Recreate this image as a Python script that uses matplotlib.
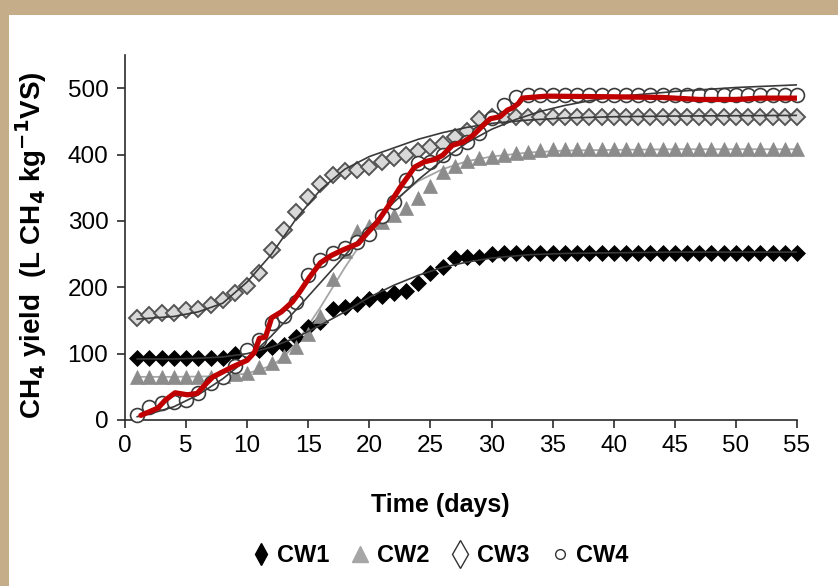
import numpy as np
import matplotlib
matplotlib.use("Agg")
import matplotlib.pyplot as plt
from matplotlib.patches import Rectangle
from matplotlib.lines import Line2D

plt.rcParams['font.family'] = ['Liberation Sans', 'DejaVu Sans']

# ---- measured cumulative CH4 yield (L CH4 kg-1 VS), one value per day ----
days = list(range(1, 56))

cw1 = [93, 93, 93, 93, 93, 93, 93, 94, 100, 103, 105, 110, 113, 125, 140,
       148, 168, 170, 175, 182, 187, 191, 194, 206, 221, 231, 244, 245, 246, 250,
       251, 251, 252, 252, 252, 252, 252, 252, 252, 252, 252, 252, 252, 252, 252,
       252, 252, 252, 252, 252, 252, 252, 252, 252, 252]

cw2 = [65, 65, 65, 65, 65, 65, 65, 66, 69, 71, 80, 86, 96, 110, 129,
       157, 212, 255, 285, 292, 298, 309, 319, 334, 352, 374, 382, 390, 395, 397,
       399, 402, 404, 407, 408, 408, 408, 408, 408, 408, 408, 408, 408, 408, 408,
       408, 408, 408, 408, 408, 408, 408, 408, 408, 408]

cw3 = [153, 158, 161, 161, 166, 168, 173, 181, 192, 202, 222, 256, 286, 313, 336,
       356, 369, 375, 377, 381, 389, 395, 399, 405, 411, 416, 427, 435, 453, 456,
       457, 457, 457, 457, 457, 457, 457, 457, 457, 457, 457, 457, 457, 457, 457,
       457, 457, 457, 457, 457, 457, 457, 457, 457, 457]

cw4 = [7, 20, 25, 27, 30, 40, 56, 65, 81, 105, 120, 146, 157, 178, 218,
       241, 251, 259, 268, 280, 307, 328, 361, 387, 389, 399, 410, 419, 433, 455,
       474, 487, 489, 489, 489, 489, 489, 489, 489, 489, 489, 489, 489, 489, 489,
       489, 489, 489, 489, 489, 489, 489, 489, 489, 489]

# ---- fitted model curves ----
cw1_fit_days = [1, 4, 6, 8, 10, 12, 14, 16, 18, 20, 22, 24, 26, 28, 30, 33, 36, 40, 45, 50, 55]
cw1_fit = [92, 92, 93, 95, 100, 110, 124, 143, 163, 185, 203, 218, 230, 238, 244, 249, 251, 252, 253, 253, 253]

cw2_fit_days = [1, 4, 8, 10, 12, 13, 14, 16, 18, 20, 22, 24, 26, 28, 30, 33, 36, 40, 45, 55]
cw2_fit = [65, 65, 66, 70, 82, 95, 115, 170, 230, 285, 330, 360, 378, 390, 397, 403, 406, 407, 408, 408]

cw3_fit_days = [1, 4, 6, 8, 10, 12, 14, 16, 18, 20, 22, 24, 26, 28, 30, 33, 36, 40, 45, 55]
cw3_fit = [152, 156, 163, 176, 208, 250, 303, 347, 378, 397, 410, 423, 433, 441, 447, 452, 455, 457, 458, 459]

cw4_fit_days = [1, 2, 4, 6, 8, 10, 12, 14, 16, 18, 20, 22, 24, 26, 28, 30, 32, 34, 36, 38, 40, 45, 50, 55]
cw4_fit = [5, 9, 20, 38, 62, 92, 127, 166, 207, 248, 290, 328, 362, 392, 418, 438, 453, 465, 474, 481, 487, 495, 501, 505]

# ---- highlighted trace over CW4 ----
red_days = [1.3, 2.7, 3.3, 4.1, 5.1, 5.9, 6.7, 7.2, 8.8, 10.0, 10.6, 11.0, 11.5, 12.0,
            12.8, 13.7, 14.3, 15.1, 16.0, 16.9, 17.8, 19.1, 19.8, 20.6, 21.5, 22.5,
            23.7, 24.5, 25.4, 26.0, 26.8, 27.7, 28.5, 29.2, 29.9, 30.7, 31.3, 31.7,
            32.2, 32.5, 34.5, 40, 44, 47, 50, 52, 55]
red_vals = [7, 18, 30, 41, 38, 40, 56, 65, 80, 90, 102, 123, 125, 154,
            163, 178, 193, 215, 237, 248, 256, 266, 281, 297, 321, 350,
            381, 389, 393, 399, 414, 419, 429, 442, 454, 457, 467, 470,
            477, 485, 488, 487, 486, 483, 483, 485, 485]

x_ticks = list(range(0, 56, 5))
y_ticks = list(range(0, 501, 100))

W, H = 838, 586
fig = plt.figure(figsize=(W / 100, H / 100), dpi=100)
fig.patch.set_facecolor('#c5ad8a')
fig.add_artist(Rectangle((9 / W, 0), 1, 1 - 15 / H, transform=fig.transFigure,
                         facecolor='white', edgecolor='none', zorder=0))

ax = fig.add_axes([125 / W, 1 - 420 / H, (797 - 125) / W, (420 - 55) / H])
ax.patch.set_alpha(0)
ax.set_xlim(0, 55)
ax.set_ylim(0, 550)
for s in ('top', 'right'):
    ax.spines[s].set_visible(False)
for s in ('left', 'bottom'):
    ax.spines[s].set_color('#2b2b2b')
    ax.spines[s].set_linewidth(1.2)

ax.set_xticks(x_ticks)
ax.set_yticks(y_ticks)
ax.tick_params(axis='both', direction='out', length=6, width=1.2, color='#2b2b2b',
               labelsize=17.5, labelcolor='black')
ax.tick_params(axis='y', pad=6)
ax.tick_params(axis='x', pad=5)

# fitted curves
ax.plot(cw2_fit_days, cw2_fit, color='#a6a6a6', lw=1.3, zorder=2)
ax.plot(cw1_fit_days, cw1_fit, color='#3a3a3a', lw=1.2, zorder=4)
ax.plot(cw3_fit_days, cw3_fit, color='#3a3a3a', lw=1.2, zorder=4)
ax.plot(cw4_fit_days, cw4_fit, color='#3a3a3a', lw=1.2, zorder=4)

# measured points
mk = dict(ls='none', clip_on=False, zorder=3)
ax.plot(days, cw1, marker='D', ms=8.5, mfc='black', mec='black', mew=0.5, **mk)
ax.plot(days, cw2, marker='^', ms=10.5, mfc='#8c8c8c', mec='#8c8c8c', mew=0.5, **mk)
ax.plot(days, cw3, marker='D', ms=8.5, mfc='#d9d9d9', mec='#555555', mew=1.4, **mk)
ax.plot(days, cw4, marker='o', ms=10, mfc='white', mec='#3c3c3c', mew=1.2, **mk)

ax.plot(red_days, red_vals, color='#c00000', lw=3.8, solid_capstyle='round',
        solid_joinstyle='round', zorder=6)

fig.text(31 / W, 1 - 245 / H, r'CH$_\mathbf{4}$ yield  (L CH$_\mathbf{4}$ kg$^\mathbf{-1}$VS)',
         rotation=90, ha='center', va='center', fontsize=20, fontweight='bold')
fig.text(440 / W, 1 - 505 / H, 'Time (days)', ha='center', va='center',
         fontsize=18, fontweight='bold')

handles = [
    Line2D([], [], ls='none', marker='d', ms=11, mfc='black', mec='black'),
    Line2D([], [], ls='none', marker='^', ms=11, mfc='#a6a6a6', mec='#a6a6a6'),
    Line2D([], [], ls='none', marker='d', ms=14, mfc='white', mec='#333333', mew=1.0),
    Line2D([], [], ls='none', marker='o', ms=7, mfc='white', mec='#333333', mew=1.0),
]
leg = fig.legend(handles, ['CW1', 'CW2', 'CW3', 'CW4'], loc='center',
                 bbox_to_anchor=(440 / W, 1 - 556 / H), ncol=4, frameon=False,
                 handlelength=0.8, handletextpad=0.3, columnspacing=0.9,
                 prop={'size': 17, 'weight': 'bold'})

fig.savefig('out.png', dpi=100, facecolor=fig.get_facecolor())
